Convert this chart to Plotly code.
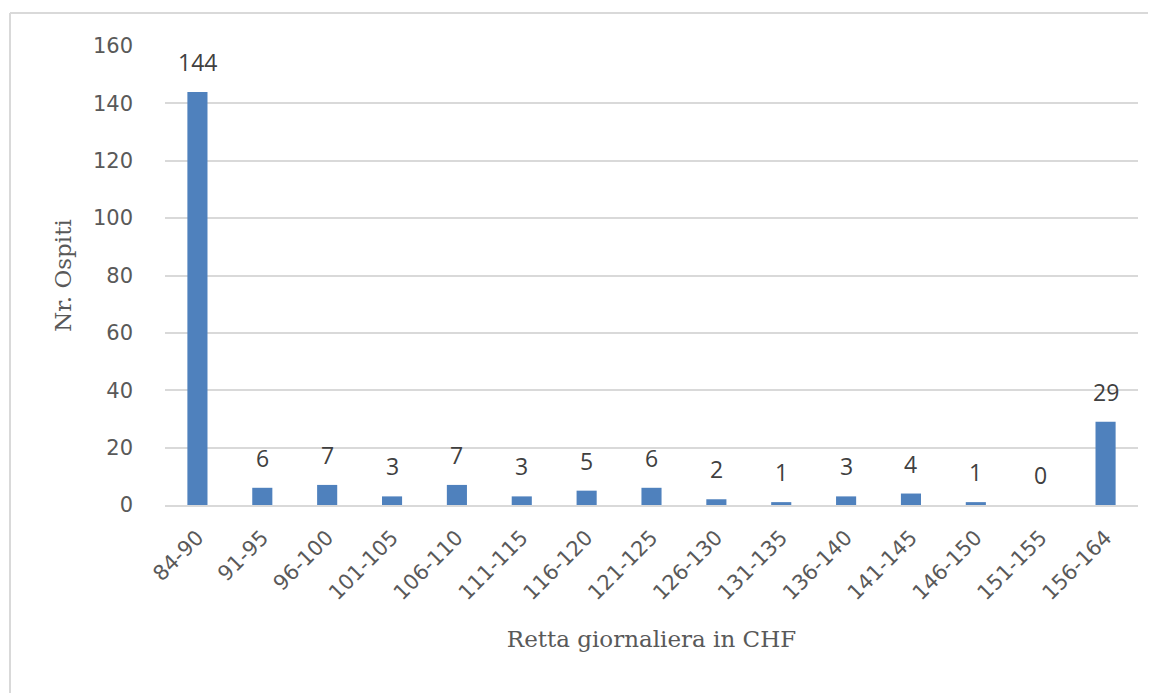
import plotly.graph_objects as go

categories = ["84-90", "91-95", "96-100", "101-105", "106-110", "111-115", "116-120",
              "121-125", "126-130", "131-135", "136-140", "141-145", "146-150",
              "151-155", "156-164"]
values = [144, 6, 7, 3, 7, 3, 5, 6, 2, 1, 3, 4, 1, 0, 29]
y_ticks = [0, 20, 40, 60, 80, 100, 120, 140, 160]

tick_font = dict(family="DejaVu Sans", size=21, color="#595959")
label_font = dict(family="Open Sans", size=23, color="#404040")
title_font = dict(family="DejaVu Serif", size=23, color="#595959")

W, H = 1148, 685
L, T = 157, 38
R = W - (1138 - 8)
B = H - (505 - 8)
pw = W - L - R
ph = H - T - B

fig = go.Figure()
fig.add_trace(go.Bar(
    x=categories, y=values,
    marker=dict(color="#4F81BD", line=dict(width=0)),
    width=0.31,
    hoverinfo="x+y",
))

for c, v in zip(categories, values):
    fig.add_annotation(x=c, y=v, text=str(v), showarrow=False,
                       yanchor="bottom", yshift=12, font=label_font)

# outer chart border
bx = (2 - L) / pw
by = 1 + (T - 5) / ph
fig.add_shape(type="line", xref="paper", yref="paper",
              x0=bx, x1=bx, y0=-0.6, y1=by,
              line=dict(color="#d9d9d9", width=2))
fig.add_shape(type="line", xref="paper", yref="paper",
              x0=bx, x1=1.2, y0=by, y1=by,
              line=dict(color="#d9d9d9", width=2))

fig.update_layout(
    width=W, height=H,
    margin=dict(l=L, r=R, t=T, b=B, autoexpand=False),
    paper_bgcolor="white", plot_bgcolor="white",
    showlegend=False,
    xaxis=dict(
        tickangle=-45, tickfont=tick_font,
        showgrid=False, showline=True, linecolor="#d9d9d9", linewidth=2,
        ticklabelstandoff=10,
        title=dict(text="Retta giornaliera in CHF", font=title_font, standoff=27),
        ticks="",
    ),
    yaxis=dict(
        range=[0, 160], tickvals=y_ticks, tickfont=tick_font,
        showgrid=True, gridcolor="#d9d9d9", gridwidth=1.5,
        zeroline=False, showline=False, ticks="",
        ticklabelstandoff=31,
        title=dict(text="Nr. Ospiti", font=title_font, standoff=14),
    ),
)

fig.write_html("out.html")
